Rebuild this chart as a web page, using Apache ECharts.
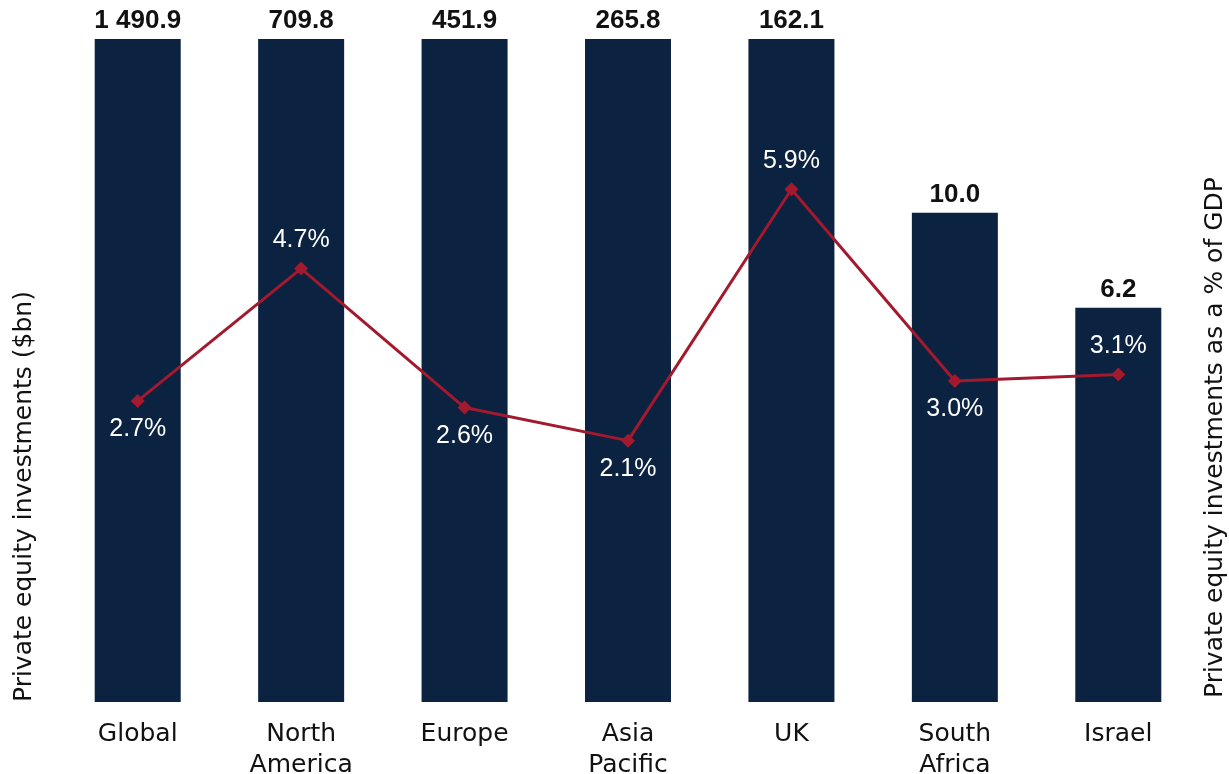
<!DOCTYPE html>
<html>
<head>
<meta charset="utf-8">
<script src="https://cdn.jsdelivr.net/npm/echarts@6/dist/echarts.min.js"></script>
<style>
  html, body { margin: 0; padding: 0; background: #ffffff; }
  #chart { width: 1229px; height: 774px; }
</style>
</head>
<body>
<div id="chart"></div>
<script>
// Private equity investments by region
const categories = ['Global', 'North\nAmerica', 'Europe', 'Asia\nPacific', 'UK', 'South\nAfrica', 'Israel'];
const investmentsBn = [1490.9, 709.8, 451.9, 265.8, 162.1, 10.0, 6.2];
const shareOfGdp = [2.7, 4.7, 2.6, 2.1, 5.9, 3.0, 3.1];
// which side of each point its percentage label sits on
const pctLabelSide = ['bottom', 'top', 'bottom', 'bottom', 'top', 'bottom', 'top'];

const NAVY = '#0b2240';
const CRIMSON = '#a3192e';
const WORD_FONT = 'DejaVu Sans';
const NUM_FONT = 'Liberation Sans';

const chart = echarts.init(document.getElementById('chart'), null, { renderer: 'canvas' });

function fmtBn(v) {
  const [intPart, dec] = v.toFixed(1).split('.');
  return intPart.replace(/\B(?=(\d{3})+(?!\d))/g, ' ') + '.' + dec;
}

chart.setOption({
  animation: false,
  backgroundColor: '#ffffff',
  textStyle: { fontFamily: WORD_FONT },
  grid: { left: 56, right: 29, top: 39, bottom: 72, outerBoundsMode: 'none' },
  xAxis: {
    type: 'category',
    data: categories,
    axisLine: { show: false },
    axisTick: { show: false },
    axisLabel: {
      color: '#111111', fontSize: 25, lineHeight: 31, margin: 17,
      fontFamily: WORD_FONT
    }
  },
  yAxis: [
    {
      // investments in $bn, logarithmic so the small markets stay visible
      type: 'log',
      logBase: 10,
      min: 0.85,
      max: 24,
      startValue: 0.85,
      show: false
    },
    {
      // share of GDP, %
      type: 'value',
      min: -1.85,
      max: 8.17,
      show: false
    }
  ],
  series: [
    {
      type: 'bar',
      yAxisIndex: 0,
      data: investmentsBn,
      barWidth: 86,
      clip: true,
      itemStyle: { color: NAVY },
      label: {
        show: true,
        position: 'top',
        distance: 5,
        color: '#111111',
        fontSize: 26,
        fontWeight: 'bold',
        fontFamily: NUM_FONT,
        formatter: p => fmtBn(p.value)
      }
    },
    {
      type: 'line',
      yAxisIndex: 1,
      data: shareOfGdp.map((v, i) => ({
        value: v,
        label: { position: pctLabelSide[i] }
      })),
      symbol: 'diamond',
      symbolSize: 14,
      lineStyle: { color: CRIMSON, width: 3 },
      itemStyle: { color: CRIMSON },
      label: {
        show: true,
        distance: 9,
        color: '#ffffff',
        fontSize: 25,
        fontFamily: NUM_FONT,
        formatter: p => p.value.toFixed(1) + '%'
      },
      z: 5
    }
  ],
  graphic: [
    {
      type: 'text',
      x: 24, y: 702,
      rotation: Math.PI / 2,
      style: {
        text: 'Private equity investments ($bn)',
        fill: '#111111', fontSize: 25, fontFamily: WORD_FONT,
        align: 'left', verticalAlign: 'middle'
      }
    },
    {
      type: 'text',
      x: 1215, y: 698,
      rotation: Math.PI / 2,
      style: {
        text: 'Private equity investments as a % of GDP',
        fill: '#111111', fontSize: 25, fontFamily: WORD_FONT,
        align: 'left', verticalAlign: 'middle'
      }
    }
  ]
});
</script>
</body>
</html>
